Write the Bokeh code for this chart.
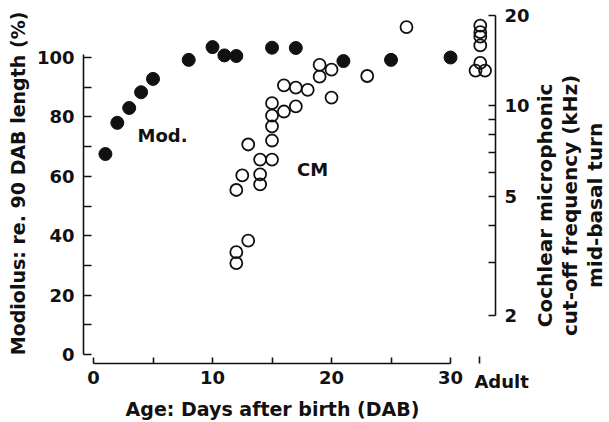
import math
from bokeh.plotting import figure
from bokeh.models import Range1d, LinearAxis, LogAxis, LogScale, FixedTicker, BasicTickFormatter
from bokeh.embed import file_html
from bokeh.resources import INLINE
from bokeh.core.properties import value

# ---------------- data ----------------
# Modiolus length, % of 90 DAB length (filled circles, left axis)
MOD_DAYS = [1, 2, 3, 4, 5, 8, 10, 11, 12, 15, 17, 21, 25, 30]
MOD_PCT = [67.5, 78.0, 83.0, 88.3, 92.8, 99.2, 103.5, 100.7, 100.5, 103.3, 103.2, 98.8, 99.2, 100.0]

# Cochlear microphonic cut-off frequency, kHz (open circles, right log axis)
CM_DAYS = [12, 12, 13, 12, 12.5, 14, 14, 14, 15, 13, 15, 15, 15, 16, 17, 15,
           16, 17, 18, 19, 19, 20, 20, 23, 26.3,
           32.5, 32.5, 32.5, 32.5, 32.5, 32.1, 32.9]
CM_KHZ = [2.99, 3.25, 3.55, 5.24, 5.86, 5.47, 5.91, 6.62, 6.62, 7.43, 7.66, 8.54, 9.27, 9.57, 9.95, 10.2,
          11.7, 11.5, 11.3, 12.5, 13.7, 13.2, 10.65, 12.57, 18.3,
          18.5, 17.6, 17.0, 15.9, 13.9, 13.1, 13.1]

# ticks
X_TICKS = [0, 10, 20, 30]
X_MINOR = [5, 15, 25]
X_BOUNDS = (0, 30)
ADULT_X = 32.44          # position of the "Adult" tick on the age axis
ADULT_LABEL_X = 34.29    # centre of the "Adult" text
Y_TICKS = [0, 20, 40, 60, 80, 100]
Y_MINOR = [10, 30, 50, 70, 90]
Y_BOUNDS = (0, 101)
R_TICKS = [2, 5, 10, 20]
R_MINOR = [3, 4, 6, 7, 8, 9]
R_BOUNDS = (2, 20)

# where the axes cross (data units of the cross range)
LEFT_AXIS_AT = -0.84
RIGHT_AXIS_AT = 33.78
BOTTOM_AXIS_AT = -3.03

# texts placed in data units (left % scale for y)
NOTE_TEXT = ["Mod.", "CM"]
NOTE_X = [5.8, 18.4]
NOTE_Y = [73.7, 62.3]
XTITLE = "Age: Days after birth (DAB)"
XTITLE_POS = (15.04, -18.3)
YTITLE = "Modiolus: re. 90 DAB length (%)"
YTITLE_POS = (-6.34, 57.6)
RTITLE_LINES = ["Cochlear microphonic", "cut-off frequency (kHz)", "mid-basal turn"]
RTITLE_X = [37.98, 40.08, 42.14]
RTITLE_Y = 50.2

# ranges (the frame covers the whole canvas)
X_LO, X_HI = -7.815, 43.19
Y_LO, Y_HI = -22.22, 119.19
R_LO, R_HI = 0.893, 22.44

FONT = "DejaVu Sans"
BLACK = "#111111"

p = figure(width=607, height=420, output_backend="svg", toolbar_location=None,
           x_range=Range1d(X_LO, X_HI), y_range=Range1d(Y_LO, Y_HI),
           x_axis_type=None, y_axis_type=None, min_border=0)
p.outline_line_color = None
p.background_fill_color = "white"
p.border_fill_color = "white"
p.extra_y_ranges = {"khz": Range1d(R_LO, R_HI)}
p.extra_y_scales = {"khz": LogScale()}


def style_axis(ax, tick_len, minor_len=None, label_size="18px"):
    ax.axis_line_color = BLACK
    ax.axis_line_width = 1.6
    ax.major_tick_line_color = BLACK
    ax.minor_tick_line_color = BLACK
    ax.major_tick_line_width = 1.6
    ax.minor_tick_line_width = 1.6
    ax.major_tick_in = tick_len
    ax.major_tick_out = 0
    ax.minor_tick_in = tick_len if minor_len is None else minor_len
    ax.minor_tick_out = 0
    ax.major_label_text_font = FONT
    ax.major_label_text_font_style = "bold"
    ax.major_label_text_font_size = label_size
    ax.major_label_text_color = BLACK


left = LinearAxis(ticker=FixedTicker(ticks=Y_TICKS, minor_ticks=Y_MINOR), bounds=Y_BOUNDS,
                  fixed_location=LEFT_AXIS_AT)
style_axis(left, 8)
left.major_label_standoff = 9
p.add_layout(left, "left")

bottom = LinearAxis(ticker=FixedTicker(ticks=X_TICKS, minor_ticks=X_MINOR), bounds=X_BOUNDS,
                    fixed_location=BOTTOM_AXIS_AT)
style_axis(bottom, 6)
bottom.major_label_standoff = 7
p.add_layout(bottom, "below")

# separate "Adult" tick (minor tick) and its label (major tick of zero length)
adult = LinearAxis(ticker=FixedTicker(ticks=[ADULT_LABEL_X], minor_ticks=[ADULT_X]),
                   bounds=(ADULT_X - 0.05, ADULT_LABEL_X + 0.05),
                   major_label_overrides={ADULT_LABEL_X: "Adult"},
                   fixed_location=BOTTOM_AXIS_AT)
style_axis(adult, 0, minor_len=7)
adult.axis_line_color = None
adult.major_tick_line_color = None
adult.major_label_standoff = 7
p.add_layout(adult, "below")

right = LogAxis(y_range_name="khz", ticker=FixedTicker(ticks=R_TICKS, minor_ticks=R_MINOR),
                formatter=BasicTickFormatter(), bounds=R_BOUNDS, fixed_location=RIGHT_AXIS_AT)
style_axis(right, 7)
right.major_label_standoff = 9
p.add_layout(right, "right")

# data
p.scatter(MOD_DAYS, MOD_PCT, size=13, marker="circle", fill_color=BLACK, line_color=BLACK)
p.scatter(CM_DAYS, CM_KHZ, size=12, marker="circle", fill_alpha=0, line_color=BLACK,
          line_width=1.8, y_range_name="khz")

# texts
txt = dict(text_font=value(FONT), text_font_style="bold", text_color=BLACK,
           text_align="center", text_baseline="middle")
p.text(x=NOTE_X, y=NOTE_Y, text=NOTE_TEXT, text_font_size=value("18px"), **txt)
p.text(x=[XTITLE_POS[0]], y=[XTITLE_POS[1]], text=[XTITLE], text_font_size=value("19px"), **txt)
p.text(x=[YTITLE_POS[0]], y=[YTITLE_POS[1]], text=[YTITLE], angle=math.pi / 2,
       text_font_size=value("19px"), **txt)
p.text(x=RTITLE_X, y=[RTITLE_Y] * len(RTITLE_LINES), text=RTITLE_LINES, angle=math.pi / 2,
       text_font_size=value("20px"), **txt)

open("out.html", "w").write(file_html(p, INLINE))
